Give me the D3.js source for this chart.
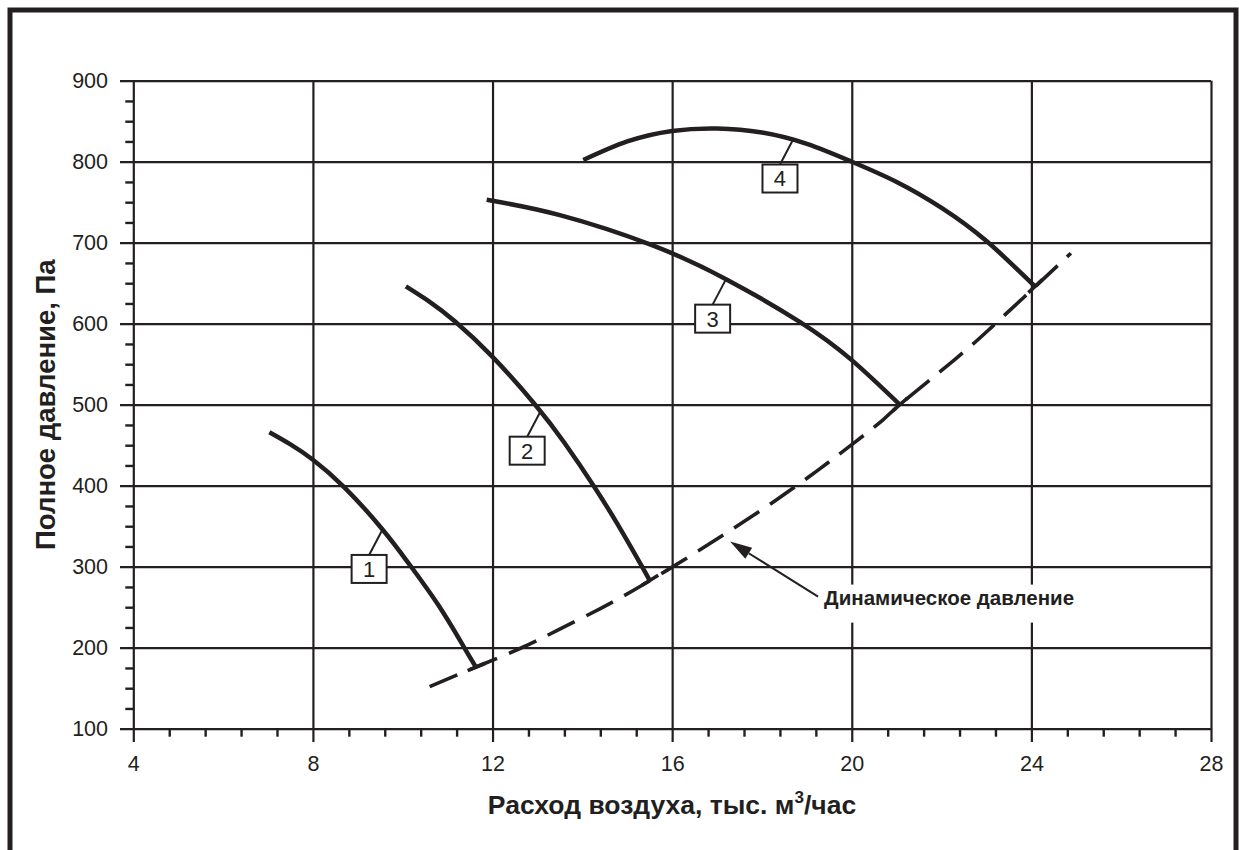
<!DOCTYPE html>
<html>
<head>
<meta charset="utf-8">
<script src="https://cdn.jsdelivr.net/npm/d3@7/dist/d3.min.js"></script>
<style>
    body { margin: 0; background: #fff; }
    svg { display: block; font-family: "Liberation Sans", Arial, Helvetica, sans-serif; }
</style>
</head>
<body>
<div id="chart"></div>
<script>
// axis ticks
const xTicks = [4, 8, 12, 16, 20, 24, 28];
const yTicks = [100, 200, 300, 400, 500, 600, 700, 800, 900];
const xMinor = d3.range(0, 31).filter(i => i % 5 !== 0).map(i => 4 + i * 0.8);
const yMinor = d3.range(100, 901, 25).filter(v => v % 100 !== 0);

// fan curves (расход, тыс. м3/час  ->  полное давление, Па)
const curve1X = [7.03, 7.5, 8.0, 8.7, 9.55, 10.16, 10.8, 11.35, 11.63];
const curve1Y = [466, 451, 432, 398, 346, 302, 252, 202, 176];
const curve2X = [10.07, 10.6, 11.16, 12.0, 12.95, 13.6, 14.25, 14.8, 15.32, 15.5];
const curve2Y = [646, 627, 603, 559, 500, 453, 400, 351, 301, 283];
const curve3X = [11.87, 13.5, 15.55, 17.2, 18.85, 20.0, 21.07];
const curve3Y = [753, 734, 697, 655, 602, 555, 500];
const curve4X = [14.02, 15.0, 16.0, 17.0, 18.0, 19.0, 20.0, 21.0, 22.0, 23.0, 24.08];
const curve4Y = [802, 825, 838, 841, 836, 822, 800, 775, 743, 702, 646];

// dynamic pressure (dashed)
const dynX = [10.6, 11.63, 12.61, 13.43, 14.39, 15.36, 16.51, 17.36, 18.23, 19.07, 19.89, 20.69, 21.07, 22.3, 23.08, 23.84, 24.61, 24.88];
const dynY = [152, 176, 199, 221, 248, 278, 317, 347, 379, 412, 446, 481, 500, 556, 594, 633, 673, 687];

// numbered labels and where their leaders touch the curves
const labelNames = ["1", "2", "3", "4"];
const labelAtX = [9.55, 13.07, 17.2, 18.7];
const labelAtY = [346, 492, 655, 828];

const noteText = "Динамическое давление";
const noteTip = [17.29, 331];

const width = 1239, height = 850;
const ink = "#231f20";

const x = d3.scaleLinear([4, 28], [133.3, 1211]);
const y = d3.scaleLinear([100, 900], [728.7, 80.7]);

const svg = d3.select("#chart").append("svg")
    .attr("width", width)
    .attr("height", height)
    .attr("viewBox", [0, 0, width, height]);

// outer frame
svg.append("rect")
    .attr("x", 10).attr("y", 10)
    .attr("width", 1226).attr("height", 900)
    .attr("fill", "none")
    .attr("stroke", ink)
    .attr("stroke-width", 5);

// vertical grid + x labels
svg.append("g")
    .attr("transform", `translate(0,742)`)
    .call(d3.axisBottom(x).tickValues(xTicks).tickSizeInner(-(742 - y(900))).tickSizeOuter(0).tickPadding(14))
    .call(g => g.select(".domain").remove())
    .call(g => g.selectAll(".tick line").attr("stroke", ink).attr("stroke-width", 2.2))
    .call(g => g.selectAll(".tick text").attr("fill", ink).attr("font-size", 21.5));

// horizontal grid + y labels
svg.append("g")
    .attr("transform", `translate(120,0)`)
    .call(d3.axisLeft(y).tickValues(yTicks).tickSizeInner(-(x(28) - 120)).tickSizeOuter(0).tickPadding(12))
    .call(g => g.select(".domain").remove())
    .call(g => g.selectAll(".tick line").attr("stroke", ink).attr("stroke-width", 2.2))
    .call(g => g.selectAll(".tick text").attr("fill", ink).attr("font-size", 21.5));

// minor ticks
svg.append("g")
    .attr("transform", `translate(0,${y(100)})`)
    .call(d3.axisBottom(x).tickValues(xMinor).tickSize(8).tickFormat(""))
    .call(g => g.select(".domain").remove())
    .call(g => g.selectAll(".tick line").attr("stroke", ink).attr("stroke-width", 2.4));

svg.append("g")
    .attr("transform", `translate(${x(4)},0)`)
    .call(d3.axisLeft(y).tickValues(yMinor).tickSize(8).tickFormat(""))
    .call(g => g.select(".domain").remove())
    .call(g => g.selectAll(".tick line").attr("stroke", ink).attr("stroke-width", 2.4));

// axis titles
svg.append("text")
    .attr("x", 672)
    .attr("y", 814)
    .attr("text-anchor", "middle")
    .attr("font-size", 26.5)
    .attr("font-weight", "bold")
    .attr("fill", ink)
    .call(t => t.append("tspan").text("Расход воздуха, тыс. м"))
    .call(t => t.append("tspan").attr("font-size", 17).attr("dy", -11).text("3"))
    .call(t => t.append("tspan").attr("dy", 11).text("/час"));

svg.append("text")
    .attr("transform", `translate(55,${(y(100) + y(900)) / 2}) rotate(-90)`)
    .attr("text-anchor", "middle")
    .attr("font-size", 27.5)
    .attr("font-weight", "bold")
    .attr("fill", ink)
    .text("Полное давление, Па");

// annotation for the dashed curve
const tip = [x(noteTip[0]), y(noteTip[1])];
const textStart = [tip[0] + 94, tip[1] + 63];

svg.append("rect")
    .attr("x", textStart[0] - 4)
    .attr("y", textStart[1] - 20)
    .attr("width", 262)
    .attr("height", 38)
    .attr("fill", "#fff");

const dx = textStart[0] - 6 - tip[0], dy = textStart[1] - 8 - tip[1];
const len = Math.hypot(dx, dy), ux = dx / len, uy = dy / len;
const headLen = 22, headW = 6.5;

svg.append("line")
    .attr("x1", textStart[0] - 6).attr("y1", textStart[1] - 8)
    .attr("x2", tip[0] + ux * headLen).attr("y2", tip[1] + uy * headLen)
    .attr("stroke", ink)
    .attr("stroke-width", 2);

svg.append("path")
    .attr("d", d3.line()([
        tip,
        [tip[0] + ux * headLen - uy * headW, tip[1] + uy * headLen + ux * headW],
        [tip[0] + ux * headLen + uy * headW, tip[1] + uy * headLen - ux * headW]
    ]) + "Z")
    .attr("fill", ink);

svg.append("text")
    .attr("x", textStart[0])
    .attr("y", textStart[1])
    .attr("font-size", 19.5)
    .attr("font-weight", "bold")
    .attr("textLength", 250)
    .attr("lengthAdjust", "spacingAndGlyphs")
    .attr("fill", ink)
    .text(noteText);

// curves
const line = d3.line()
    .x(d => x(d[0]))
    .y(d => y(d[1]))
    .curve(d3.curveNatural);

const curves = [
    d3.zip(curve1X, curve1Y),
    d3.zip(curve2X, curve2Y),
    d3.zip(curve3X, curve3Y),
    d3.zip(curve4X, curve4Y)
];

svg.append("path")
    .datum(d3.zip(dynX, dynY))
    .attr("d", line)
    .attr("fill", "none")
    .attr("stroke", ink)
    .attr("stroke-width", 3.6)
    .attr("stroke-dasharray", "30,13");

svg.append("g")
    .selectAll("path")
    .data(curves)
    .join("path")
    .attr("d", line)
    .attr("fill", "none")
    .attr("stroke", ink)
    .attr("stroke-width", 4.5);

// short solid caps where each curve meets the dashed line
function dynAt(v) {
    const i = Math.max(1, d3.bisectLeft(dynX, v));
    const t = (v - dynX[i - 1]) / (dynX[i] - dynX[i - 1]);
    return dynY[i - 1] + t * (dynY[i] - dynY[i - 1]);
}

svg.append("g")
    .selectAll("line")
    .data(curves.map(c => c[c.length - 1]))
    .join("line")
    .each(function (d) {
        const p0 = [x(d[0] - 0.1), y(dynAt(d[0] - 0.1))];
        const p1 = [x(d[0] + 0.1), y(dynAt(d[0] + 0.1))];
        const L = Math.hypot(p1[0] - p0[0], p1[1] - p0[1]);
        const vx = (p1[0] - p0[0]) / L, vy = (p1[1] - p0[1]) / L;
        const cx = x(d[0]), cy = y(d[1]);
        d3.select(this)
            .attr("x1", cx - vx * 9).attr("y1", cy - vy * 9)
            .attr("x2", cx + vx * 10).attr("y2", cy + vy * 10);
    })
    .attr("stroke", ink)
    .attr("stroke-width", 3.6);

// number boxes with leaders
const labels = svg.append("g")
    .selectAll("g")
    .data(labelNames)
    .join("g")
    .attr("transform", (d, i) => `translate(${x(labelAtX[i]) - 13.4},${y(labelAtY[i]) + 39.5})`);

labels.append("line")
    .attr("x1", 0).attr("y1", -14)
    .attr("x2", 13.4)
    .attr("y2", -39.5)
    .attr("stroke", ink)
    .attr("stroke-width", 2);

labels.append("rect")
    .attr("x", -17.5).attr("y", -14)
    .attr("width", 35).attr("height", 28)
    .attr("fill", "#fff")
    .attr("stroke", ink)
    .attr("stroke-width", 2);

labels.append("text")
    .attr("text-anchor", "middle")
    .attr("dy", "0.36em")
    .attr("font-size", 22)
    .attr("fill", ink)
    .text(d => d);
</script>
</body>
</html>
